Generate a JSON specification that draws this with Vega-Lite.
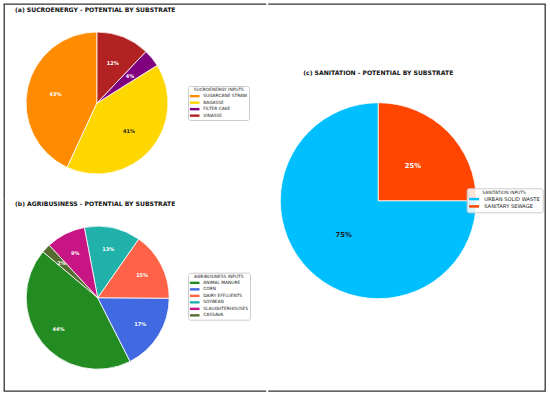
{
  "$schema": "https://vega.github.io/schema/vega-lite/v6.json",
  "background": "white",
  "padding": {"left": 3, "top": 3, "right": 5, "bottom": 3},
  "config": {"font": "DejaVu Sans", "view": {"stroke": "#333", "strokeWidth": 1.3}},
  "data": {"values": [
    {"sector": "SUCROENERGY", "k": 0, "input": "SUGARCANE STRAW", "share": 0.431},
    {"sector": "SUCROENERGY", "k": 1, "input": "BAGASSE", "share": 0.408},
    {"sector": "SUCROENERGY", "k": 2, "input": "FILTER CAKE", "share": 0.040},
    {"sector": "SUCROENERGY", "k": 3, "input": "VINASSE", "share": 0.121},
    {"sector": "AGRIBUSINESS", "k": 0, "input": "ANIMAL MANURE", "share": 0.436},
    {"sector": "AGRIBUSINESS", "k": 1, "input": "CORN", "share": 0.174},
    {"sector": "AGRIBUSINESS", "k": 2, "input": "DAIRY EFFLUENTS", "share": 0.154},
    {"sector": "AGRIBUSINESS", "k": 3, "input": "SOYBEAN", "share": 0.127},
    {"sector": "AGRIBUSINESS", "k": 4, "input": "SLAUGHTERHOUSES", "share": 0.089},
    {"sector": "AGRIBUSINESS", "k": 5, "input": "CASSAVA", "share": 0.020},
    {"sector": "SANITATION", "k": 0, "input": "URBAN SOLID WASTE", "share": 0.75},
    {"sector": "SANITATION", "k": 1, "input": "SANITARY SEWAGE", "share": 0.25}
  ]},
  "spacing": 0,
  "bounds": "full",
  "resolve": {"scale": {"color": "independent"}, "legend": {"color": "independent"}},
  "hconcat": [
    {
      "spacing": 0,
      "bounds": "flush",
      "resolve": {"scale": {"color": "independent"}, "legend": {"color": "independent"}},
      "vconcat": [
        {
          "width": 262, "height": 195,
          "view": {"stroke": "#333", "strokeWidth": 1.3, "strokeDash": [262, 457, 195]},
          "title": {"text": "(a) SUCROENERGY - POTENTIAL BY SUBSTRATE", "anchor": "start", "frame": "group", "offset": -14, "dx": 11, "baseline": "alphabetic", "fontSize": 6.1, "fontWeight": "bold", "font": "DejaVu Sans", "color": "#111"},
          "transform": [{"filter": "datum.sector === 'SUCROENERGY'"}],
          "encoding": {
            "theta": {"field": "share", "type": "quantitative", "stack": true, "scale": {"range": [0, -6.2832]}},
            "order": {"field": "k", "type": "quantitative"},
            "x": {"field": "sector", "type": "nominal", "axis": null, "scale": {"type": "point", "align": 0.355}},
            "y": {"field": "sector", "type": "nominal", "axis": null, "scale": {"type": "point", "align": 0.5077}}
          },
          "layer": [
            {
              "mark": {"type": "arc", "outerRadius": 71, "stroke": "white", "strokeWidth": 0.8},
              "encoding": {
                "color": {"field": "input", "type": "nominal",
                  "scale": {"domain": ["SUGARCANE STRAW", "BAGASSE", "FILTER CAKE", "VINASSE"], "range": ["#FF8C00", "#FFD700", "#800080", "#B22222"]},
                  "legend": {"orient": "none", "legendX": 184, "legendY": 82, "title": "SUCROENERGY INPUTS", "titleFontSize": 4.35, "titleFontWeight": "normal", "titleFont": "DejaVu Sans", "titleColor": "#222", "titleAnchor": "middle", "titlePadding": 1.5, "labelFontSize": 4.35, "labelFont": "DejaVu Sans", "labelColor": "#222", "labelOffset": 8.5, "symbolType": "M-1,-0.5L3,-0.5L3,0.5L-1,0.5Z", "symbolSize": 23, "symbolStrokeWidth": 0, "rowPadding": 1.5, "padding": 1.8, "strokeColor": "#ccc", "fillColor": "rgba(255,255,255,0.85)", "cornerRadius": 2}
                }
              }
            },
            {
              "mark": {"type": "text", "radius": 42.6, "fontSize": 5, "fontWeight": "bold", "font": "DejaVu Sans", "align": "center", "baseline": "middle"},
              "encoding": {
                "text": {"field": "share", "type": "quantitative", "format": ".0%"},
                "color": {"condition": {"test": "datum.input === 'BAGASSE'", "value": "#1a1a1a"}, "value": "white"}
              }
            }
          ]
        },
        {
          "width": 262, "height": 192,
          "view": {"stroke": "#333", "strokeWidth": 1.3, "strokeDash": [0, 454, 454]},
          "title": {"text": "(b) AGRIBUSINESS - POTENTIAL BY SUBSTRATE", "anchor": "start", "frame": "group", "offset": -12.7, "dx": 11, "baseline": "alphabetic", "fontSize": 6.1, "fontWeight": "bold", "font": "DejaVu Sans", "color": "#111"},
          "transform": [{"filter": "datum.sector === 'AGRIBUSINESS'"}],
          "encoding": {
            "theta": {"field": "share", "type": "quantitative", "stack": true, "scale": {"range": [-0.87266, -7.15585]}},
            "order": {"field": "k", "type": "quantitative"},
            "x": {"field": "sector", "type": "nominal", "axis": null, "scale": {"type": "point", "align": 0.3576}},
            "y": {"field": "sector", "type": "nominal", "axis": null, "scale": {"type": "point", "align": 0.5141}}
          },
          "layer": [
            {
              "mark": {"type": "arc", "outerRadius": 71.5, "stroke": "white", "strokeWidth": 0.8},
              "encoding": {
                "color": {"field": "input", "type": "nominal",
                  "scale": {"domain": ["ANIMAL MANURE", "CORN", "DAIRY EFFLUENTS", "SOYBEAN", "SLAUGHTERHOUSES", "CASSAVA"], "range": ["#228B22", "#4169E1", "#FF6347", "#20B2AA", "#C71585", "#556B2F"]},
                  "legend": {"orient": "none", "legendX": 184, "legendY": 73.7, "title": "AGRIBUSINESS INPUTS", "titleFontSize": 4.35, "titleFontWeight": "normal", "titleFont": "DejaVu Sans", "titleColor": "#222", "titleAnchor": "middle", "titlePadding": 1.5, "labelFontSize": 4.35, "labelFont": "DejaVu Sans", "labelColor": "#222", "labelOffset": 8.5, "symbolType": "M-1,-0.5L3,-0.5L3,0.5L-1,0.5Z", "symbolSize": 23, "symbolStrokeWidth": 0, "rowPadding": 1.5, "padding": 1.8, "strokeColor": "#ccc", "fillColor": "rgba(255,255,255,0.85)", "cornerRadius": 2}
                }
              }
            },
            {
              "mark": {"type": "text", "radius": 50, "fontSize": 5, "fontWeight": "bold", "font": "DejaVu Sans", "align": "center", "baseline": "middle"},
              "encoding": {
                "text": {"field": "share", "type": "quantitative", "format": ".0%"},
                "color": {"value": "white"}
              }
            }
          ]
        }
      ]
    },
    {
      "width": 277, "height": 387,
      "view": {"stroke": "#333", "strokeWidth": 1.3, "strokeDash": [941, 387]},
      "title": {"text": "(c) SANITATION - POTENTIAL BY SUBSTRATE", "anchor": "middle", "frame": "group", "offset": -77.2, "dx": -28.2, "baseline": "alphabetic", "fontSize": 6.1, "fontWeight": "bold", "font": "DejaVu Sans", "color": "#111"},
      "transform": [{"filter": "datum.sector === 'SANITATION'"}],
      "encoding": {
        "theta": {"field": "share", "type": "quantitative", "stack": true, "scale": {"range": [0, -6.2832]}},
        "order": {"field": "k", "type": "quantitative"},
        "x": {"field": "sector", "type": "nominal", "axis": null, "scale": {"type": "point", "align": 0.3982}},
        "y": {"field": "sector", "type": "nominal", "axis": null, "scale": {"type": "point", "align": 0.5083}}
      },
      "layer": [
        {
          "mark": {"type": "arc", "outerRadius": 98, "stroke": "white", "strokeWidth": 0.8},
          "encoding": {
            "color": {"field": "input", "type": "nominal",
              "scale": {"domain": ["URBAN SOLID WASTE", "SANITARY SEWAGE"], "range": ["#00BFFF", "#FF4500"]},
              "legend": {"orient": "none", "legendX": 198.7, "legendY": 184.3, "title": "SANITATION INPUTS", "titleFontSize": 4.4, "titleFontWeight": "normal", "titleFont": "DejaVu Sans", "titleColor": "#222", "titleAnchor": "middle", "titlePadding": 1.5, "labelFontSize": 5.2, "labelFont": "DejaVu Sans", "labelColor": "#222", "labelOffset": 10, "symbolType": "M-1,-0.5L3,-0.5L3,0.5L-1,0.5Z", "symbolSize": 25, "symbolStrokeWidth": 0, "rowPadding": 1.3, "padding": 2.3, "strokeColor": "#ccc", "fillColor": "rgba(255,255,255,0.85)", "cornerRadius": 2}
            }
          }
        },
        {
          "mark": {"type": "text", "radius": 49, "fontSize": 6.8, "fontWeight": "bold", "font": "DejaVu Sans", "align": "center", "baseline": "middle"},
          "encoding": {
            "text": {"field": "share", "type": "quantitative", "format": ".0%"},
            "color": {"condition": {"test": "datum.input === 'URBAN SOLID WASTE'", "value": "#1a1a1a"}, "value": "white"}
          }
        }
      ]
    }
  ]
}
